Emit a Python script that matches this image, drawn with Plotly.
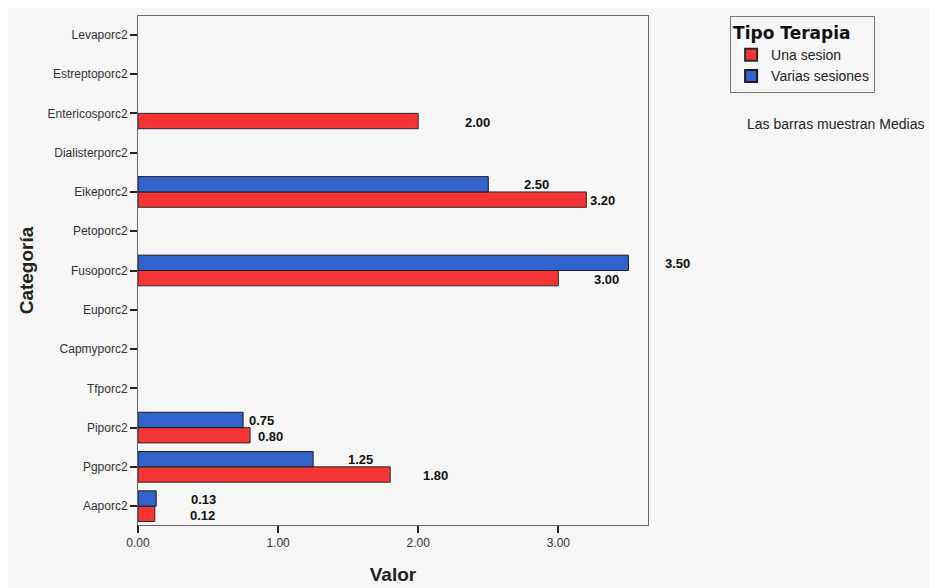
import plotly.graph_objects as go

categories = ["Levaporc2", "Estreptoporc2", "Entericosporc2", "Dialisterporc2",
              "Eikeporc2", "Petoporc2", "Fusoporc2", "Euporc2", "Capmyporc2",
              "Tfporc2", "Piporc2", "Pgporc2", "Aaporc2"]
una_sesion = [None, None, 2.00, None, 3.20, None, 3.00, None, None, None, 0.80, 1.80, 0.12]
varias_sesiones = [None, None, None, None, 2.50, None, 3.50, None, None, None, 0.75, 1.25, 0.13]
x_ticks = [0, 1, 2, 3]
x_tick_labels = ["0.00", "1.00", "2.00", "3.00"]

# reverse so first category appears at top
cats_plot = categories[::-1]
una_plot = una_sesion[::-1]
var_plot = varias_sesiones[::-1]

RED = "#f53535"
BLUE = "#3262cc"
FONT = "Arial, Liberation Sans"

fig = go.Figure()
fig.add_trace(go.Bar(y=cats_plot, x=una_plot, orientation="h", name="Una sesion",
                     marker=dict(color=RED, line=dict(color="#2a2a2a", width=1))))
fig.add_trace(go.Bar(y=cats_plot, x=var_plot, orientation="h", name="Varias sesiones",
                     marker=dict(color=BLUE, line=dict(color="#1a1a1a", width=1))))

# label horizontal offsets (px) per category, style only
red_dx = {"Entericosporc2": 45, "Eikeporc2": 2, "Fusoporc2": 34, "Piporc2": 6,
          "Pgporc2": 31, "Aaporc2": 33}
blue_dx = {"Eikeporc2": 34, "Fusoporc2": 35, "Piporc2": 4, "Pgporc2": 33, "Aaporc2": 33}

annotations = []
for c, v in zip(categories, una_sesion):
    if v is not None:
        annotations.append(dict(x=v, y=c, xref="x", yref="y", text=f"<b>{v:.2f}</b>",
                                showarrow=False, xanchor="left", yanchor="middle",
                                xshift=red_dx.get(c, 30), yshift=-9,
                                font=dict(family=FONT, size=13, color="#111")))
for c, v in zip(categories, varias_sesiones):
    if v is not None:
        annotations.append(dict(x=v, y=c, xref="x", yref="y", text=f"<b>{v:.2f}</b>",
                                showarrow=False, xanchor="left", yanchor="middle",
                                xshift=blue_dx.get(c, 30), yshift=7,
                                font=dict(family=FONT, size=13, color="#111")))

annotations.append(dict(x=1.19, y=0.788, xref="paper", yref="paper",
                        text="Las barras muestran Medias", showarrow=False,
                        xanchor="left", yanchor="middle",
                        font=dict(family=FONT, size=14, color="#222")))

fig.update_layout(
    width=929, height=580,
    margin=dict(l=130, r=289, t=8, b=63),
    paper_bgcolor="#f6f6f6", plot_bgcolor="#f6f6f6",
    barmode="group", bargap=0.22, bargroupgap=0.0,
    font=dict(family=FONT, color="#222"),
    legend=dict(title=dict(text="<b>Tipo Terapia</b>",
                           font=dict(family="DejaVu Sans", size=17, color="#111")),
                x=1.161, y=1.0, xanchor="left", yanchor="top",
                bgcolor="#f6f6f6", bordercolor="#777", borderwidth=1,
                traceorder="normal", font=dict(family=FONT, size=14, color="#222"),
                itemsizing="constant", tracegroupgap=0, itemwidth=30),
    annotations=annotations,
    xaxis=dict(range=[0, 3.64], tickvals=x_ticks, ticktext=x_tick_labels,
               showgrid=False, zeroline=False, showline=True, linecolor="#666",
               linewidth=1, mirror=True, ticks="outside", ticklen=7, tickwidth=2,
               tickcolor="#222", tickfont=dict(size=12, color="#333"), automargin=False,
               title=dict(text="<b>Valor</b>", font=dict(size=19, color="#222"), standoff=18)),
    yaxis=dict(showgrid=False, zeroline=False, showline=True, linecolor="#666",
               linewidth=1, mirror=True, ticks="outside", ticklen=7, tickwidth=2,
               tickcolor="#222", tickfont=dict(size=12, color="#333"),
               range=[-0.48, 12.48], automargin=False,
               title=dict(text="<b>Categoría</b>", font=dict(size=19, color="#222"), standoff=8)),
)

fig.write_html("out.html")
